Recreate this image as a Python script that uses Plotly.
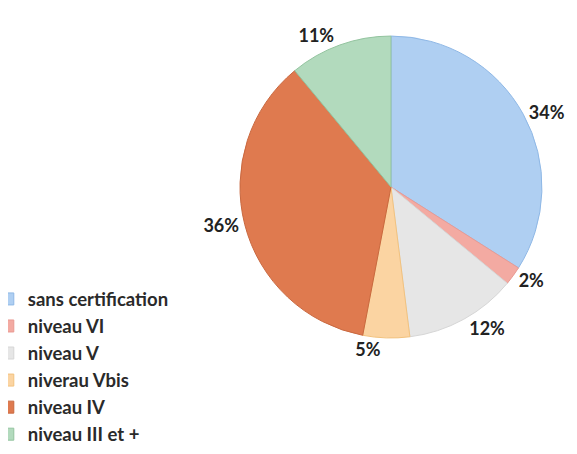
import plotly.graph_objects as go

categories = ["sans certification", "niveau VI", "niveau V", "niverau Vbis", "niveau IV", "niveau III et +"]
values = [34, 2, 12, 5, 36, 11]
colors = ["#afcff2", "#f3aaa2", "#e6e6e6", "#fbd4a2", "#df7a4f", "#b2dabd"]
line_colors = ["#8fb8e6", "#e99a92", "#d6d6d6", "#f2c27e", "#c9683f", "#93c49f"]

fig = go.Figure(go.Pie(
    labels=categories,
    values=values,
    sort=False,
    direction="clockwise",
    rotation=0,
    marker=dict(colors=colors, line=dict(color=line_colors, width=1)),
    textinfo="percent",
    texttemplate="%{percent:.0%}",
    textposition="outside",
    textfont=dict(family="Lato", size=18, color="#222222", weight="bold"),
    domain=dict(x=[0.4021, 0.9254], y=[0.2731, 0.9383]),
    hole=0,
))

fig.update_layout(
    width=577, height=454,
    margin=dict(l=0, r=0, t=0, b=0, autoexpand=False),
    paper_bgcolor="white",
    plot_bgcolor="white",
    showlegend=True,
    legend=dict(
        x=-0.035, y=0.40, xanchor="left", yanchor="top",
        font=dict(family="Lato", size=18.5, color="#2a2a2a", weight="bold"),
        itemwidth=30,
        bgcolor="rgba(0,0,0,0)",
    ),
)

fig.write_html("out.html")
